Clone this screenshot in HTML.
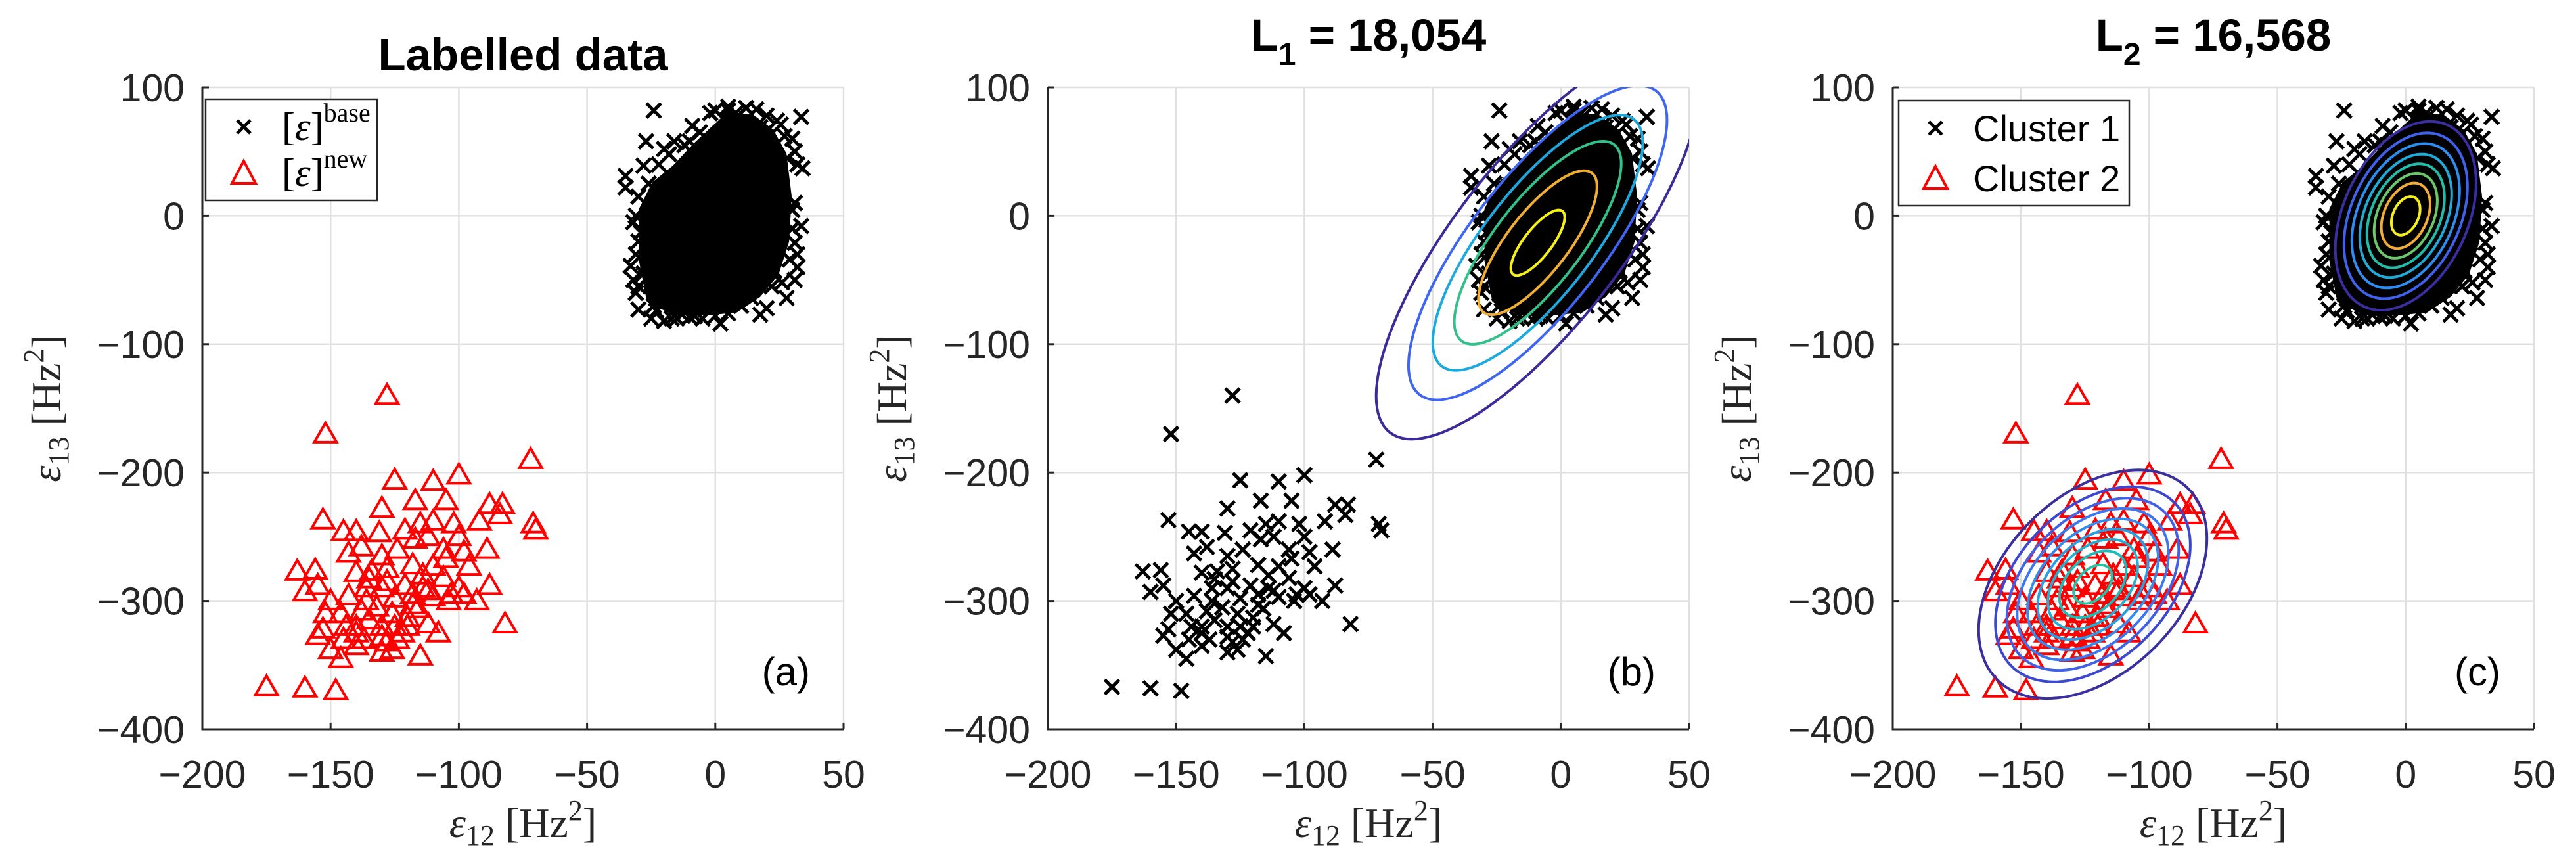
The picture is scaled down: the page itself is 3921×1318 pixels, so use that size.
<!DOCTYPE html>
<html><head><meta charset="utf-8"><style>
html,body{margin:0;padding:0;background:#fff;}
svg{display:block;font-family:"Liberation Sans",sans-serif;}
</style></head><body>
<svg id="fig" width="3921" height="1318" viewBox="0 0 3921 1318" xmlns="http://www.w3.org/2000/svg"></svg>
<script>
// ---- data ----
const xTicks = [-200, -150, -100, -50, 0, 50];
const yTicks = [-400, -300, -200, -100, 0, 100];
const newX = [-128,-152,-72,-100,-125,-110,-153,-130,-117,-105,-88,-83,-84,-71,-70,-145,-140,-131,-115,-110,-102,-92,-100,-117,-112,-106,-98,-89,-138,-143,-124,-130,-105,-163,-156,-140,-134,-128,-118,-110,-96,-155,-160,-150,-143,-136,-128,-121,-114,-106,-100,-88,-93,-152,-146,-138,-132,-125,-118,-110,-103,-98,-153,-155,-144,-140,-135,-130,-125,-120,-116,-112,-108,-82,-150,-146,-140,-130,-126,-124,-115,-145,-130,-120,-175,-160,-148,-136,-126,-118,-114,-121,-135,-130,-112,-104,-140,-137,-128,-122];
const newY = [-140,-170,-190,-202,-206,-207,-237,-228,-222,-222,-225,-225,-233,-240,-245,-246,-246,-247,-240,-238,-240,-238,-250,-252,-250,-260,-262,-260,-258,-263,-260,-265,-267,-277,-276,-278,-277,-275,-272,-273,-273,-288,-293,-300,-296,-290,-285,-288,-290,-282,-290,-288,-300,-310,-310,-308,-305,-298,-303,-297,-295,-295,-322,-327,-320,-320,-315,-320,-320,-313,-306,-318,-325,-318,-338,-345,-335,-340,-338,-330,-343,-330,-328,-320,-367,-368,-370,-300,-310,-295,-280,-245,-283,-290,-292,-300,-325,-330,-332,-325];
const coreX = [-29,-24,-16,-8,0,6,14,22,27,29,28,24,17,8,-4,-16,-26,-29];
const coreY = [5,25,38,55,70,78,78,66,48,15,-20,-45,-62,-74,-76,-76,-66,-35];
const baseX = [-24,-27,33.5,34,33.5,27.8,17.5,2,-35,-35,-33,-30,-25,-20,-16,-10,25.5,31,23,9.5,-4,-13,17.5,30,25.5,-28,-29,30,29,14,5,-2,12,-31,-30,32,28,-20,-8,20,
  -31,-32,-31,-30,-32,-30,-20,-15,-10,-5,0,5,0,5,8,12,16,31,32,31,30,32,31,-22,-18,-12,-6,-26,-24,-28,20,24,27,10,-17,-23,22,26,3,-9];
const baseY = [82,58,77,37,-8,-64,-77,-84,31,22,-39,-73,-80,52,58,58,26,-21,-43,-58,-71,-77,69,60,71,39,-13,4.5,-34,-64,82,80,84,0,-55,-40,45,-60,-78,-72,
  -60,-50,-30,-20,-5,15,-82,-80,-79,-80,-78,-76,82,85,80,84,83,50,40,10,-10,-30,-50,40,48,55,65,25,-70,-45,78,74,62,-70,-80,-74,-55,-52,76,70];
// Gaussian fits
const fitB = {mx:-9, my:-21, sx:10.5, sy:25.5, r:0.78};
const levelsB = [6.0, 4.8, 3.9, 3.1, 2.2, 1.0];
const colorsB = ["#3b2a98","#3f66f0","#1ea9de","#33c08a","#f0ae33","#f5f016"];
const fitC1 = {mx:0, my:0, sx:5.6, sy:15, r:0.35};
const levelsC1 = [4.9, 4.3, 3.75, 3.2, 2.7, 2.2, 1.7, 1.0];
const colorsC1 = ["#3b2ea0","#3f62ec","#2d8df0","#1fabd9","#22bca8","#6cc66a","#f2ad36","#f6ee18"];
const fitC2 = {mx:-122, my:-287, sx:10, sy:20, r:0.4};
const levelsC2 = [4.45, 3.8, 3.35, 2.95, 2.55, 2.15, 1.75, 1.3, 0.75];
const colorsC2 = ["#3a2f9e","#3d48d0","#4060e6","#3b78f0","#308cef","#279fe4","#1fb0d2","#1cbcbc","#25c2a6"];

const NS = "http://www.w3.org/2000/svg";
const svg = document.getElementById("fig");
function el(tag, attrs, parent){ const e=document.createElementNS(NS,tag); for(const k in attrs) e.setAttribute(k,attrs[k]); (parent||svg).appendChild(e); return e; }

const panels = [{L:308,id:"a"},{L:1595,id:"b"},{L:2881,id:"c"}];
const T=133, B=1110, W=976;
function sx(p,v){return p.L + (v+200)/250*W;}
function sy(v){return B - (v+400)/500*(B-T);}

function ellipsePath(p, f, k){
  let d="";
  for(let i=0;i<=120;i++){
    const t=i/120*2*Math.PI;
    const x=f.mx + k*f.sx*Math.cos(t);
    const y=f.my + k*f.sy*(f.r*Math.cos(t)+Math.sqrt(1-f.r*f.r)*Math.sin(t));
    d += (i?"L":"M")+sx(p,x).toFixed(1)+","+sy(y).toFixed(1);
  }
  return d+"Z";
}
function xMarker(p, g, x, y){
  const cx=sx(p,x), cy=sy(y), s=11;
  const m = el("path",{d:`M${cx-s},${cy-s}L${cx+s},${cy+s}M${cx-s},${cy+s}L${cx+s},${cy-s}`,stroke:"#000","stroke-width":5,fill:"none"},g);
  
  
}
function triMarker(p, g, x, y){
  const cx=sx(p,x), cy=sy(y), s=17;
  const m = el("path",{d:`M${cx},${cy-s}L${cx+s},${cy+s*0.72}L${cx-s},${cy+s*0.72}Z`,stroke:"#ff0000","stroke-width":4,fill:"none"},g);
  
  
}

panels.forEach((p,pi)=>{
  const g = el("g",{});
  
  
  const clip = el("clipPath",{id:"clip"+p.id},g);
  el("rect",{x:p.L,y:T,width:W,height:B-T},clip);
  xTicks.forEach(v=>{ const l=el("line",{x1:sx(p,v),x2:sx(p,v),y1:T,y2:B,stroke:"#e0e0e0","stroke-width":2.5},g);
      });
  yTicks.forEach(v=>{ const l=el("line",{x1:p.L,x2:p.L+W,y1:sy(v),y2:sy(v),stroke:"#e0e0e0","stroke-width":2.5},g);
      });
  const dg = el("g",{"clip-path":`url(#clip${p.id})`},g);
  
  
  const core = el("path",{d:coreX.map((x,i)=>(i?"L":"M")+sx(p,x)+","+sy(coreY[i])).join("")+"Z",fill:"#000",stroke:"#000","stroke-width":6},dg);
  
  
  baseX.forEach((x,i)=>xMarker(p,dg,x,baseY[i]));
  if(p.id==="a" || p.id==="c"){ newX.forEach((x,i)=>triMarker(p,dg,x,newY[i])); }
  else { newX.forEach((x,i)=>xMarker(p,dg,x,newY[i])); }
  const drawC=(f,lv,cl,name)=>{ lv.forEach((k,i)=>{ const c=el("path",{d:ellipsePath(p,f,k),fill:"none",stroke:cl[i],"stroke-width":4},dg);
        }); };
  if(p.id==="b") drawC(fitB,levelsB,colorsB,'contour-line');
  if(p.id==="c"){ drawC(fitC1,levelsC1,colorsC1,'cluster1-contour'); drawC(fitC2,levelsC2,colorsC2,'cluster2-contour'); }
  const ax = el("path",{d:`M${p.L},${T}L${p.L},${B}L${p.L+W},${B}`,fill:"none",stroke:"#262626","stroke-width":3},g);
   
  xTicks.forEach(v=>{ const x=sx(p,v);
    const tk=el("line",{x1:x,x2:x,y1:B,y2:B-10,stroke:"#262626","stroke-width":3},g);
     
    const t=el("text",{x:x,y:1199,"text-anchor":"middle","font-size":59,fill:"#262626"},g);
    t.textContent=(v<0?"\u2212"+(-v):String(v));
      });
  yTicks.forEach(v=>{ const y=sy(v);
    const tk=el("line",{x1:p.L,x2:p.L+10,y1:y,y2:y,stroke:"#262626","stroke-width":3},g);
     
    const t=el("text",{x:p.L-27,y:y+21,"text-anchor":"end","font-size":59,fill:"#262626"},g);
    t.textContent=(v<0?"\u2212"+(-v):String(v));
      });
  const xl=el("text",{x:p.L+W/2,y:1274,"text-anchor":"middle","font-size":64,fill:"#262626","font-family":"Liberation Serif, serif"},g);
  xl.innerHTML='<tspan font-style="italic">ε</tspan><tspan font-size="44" dy="12">12</tspan><tspan dy="-12">  [Hz</tspan><tspan font-size="44" dy="-26">2</tspan><tspan dy="26">]</tspan>';
   
  const yx=p.L-216, yc=(T+B)/2;
  const yl=el("text",{x:yx,y:yc,"text-anchor":"middle","font-size":64,fill:"#262626","font-family":"Liberation Serif, serif",transform:`rotate(-90 ${yx} ${yc})`},g);
  yl.innerHTML='<tspan font-style="italic">ε</tspan><tspan font-size="44" dy="12">13</tspan><tspan dy="-12">  [Hz</tspan><tspan font-size="44" dy="-26">2</tspan><tspan dy="26">]</tspan>';
   
  const pl=el("text",{x:p.L+W-51,y:1043,"text-anchor":"end","font-size":60,fill:"#000"},g);
  pl.textContent="("+p.id+")";
   
  const tt=el("text",{x:p.L+W/2,y:(p.id==="a"?107:77),"text-anchor":"middle","font-size":69,"font-weight":"bold",fill:"#000"},g);
  if(p.id==="a") tt.textContent="Labelled data";
  else if(p.id==="b") tt.innerHTML='L<tspan font-size="48" dy="22">1</tspan><tspan dy="-22"> = 18,054</tspan>';
  else tt.innerHTML='L<tspan font-size="48" dy="22">2</tspan><tspan dy="-22"> = 16,568</tspan>';
   
});

function legend(x,y,w,h,mx,ty1,ty2,tx,labels,isLatex,name){
  const g=el("g",{});
  
  
  el("rect",{x:x,y:y,width:w,height:h,fill:"#fff",stroke:"#262626","stroke-width":2.5},g);
  const s=10;
  const xm=el("path",{d:`M${mx-s},${ty1-s}L${mx+s},${ty1+s}M${mx-s},${ty1+s}L${mx+s},${ty1-s}`,stroke:"#000","stroke-width":5,fill:"none"},g);
   
  const t=16;
  const tm=el("path",{d:`M${mx},${ty2-t-2}L${mx+t+2},${ty2+t}L${mx-t-2},${ty2+t}Z`,stroke:"#ff0000","stroke-width":4,fill:"none"},g);
   
  [ty1,ty2].forEach((yy,i)=>{
    const e=el("text",{x:tx,y:yy+20,"font-size":isLatex?60:56,fill:"#000","font-family":isLatex?"Liberation Serif, serif":"Liberation Sans, sans-serif"},g);
    e.innerHTML=labels[i];
     
  });
}
legend(313,151,261,154,371,193,263,429,['[<tspan font-style="italic">ε</tspan>]<tspan font-size="40" dy="-28">base</tspan>','[<tspan font-style="italic">ε</tspan>]<tspan font-size="40" dy="-28">new</tspan>'],true,'legend-a');
legend(2890,153,351,160,2946,195,271,3003,['Cluster 1','Cluster 2'],false,'legend-c');
</script>
</body></html>
